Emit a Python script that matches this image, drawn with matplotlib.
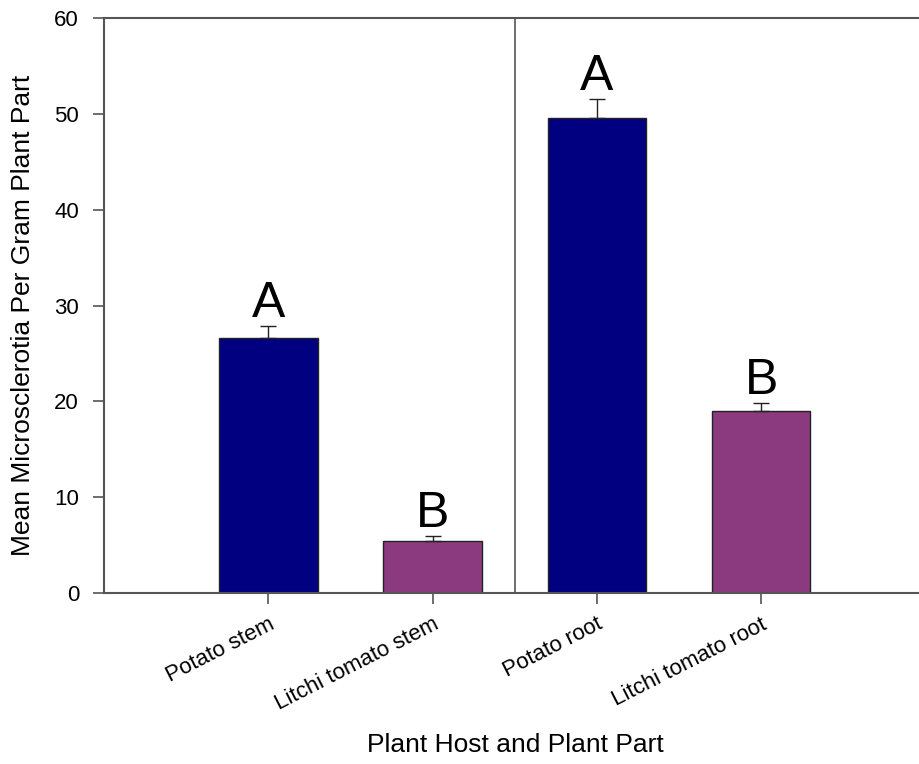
import matplotlib
matplotlib.use("Agg")
import matplotlib.pyplot as plt

# Data
categories = ["Potato stem", "Litchi tomato stem", "Potato root", "Litchi tomato root"]
means = [26.6, 5.4, 49.6, 19.0]
errors = [1.3, 0.6, 1.95, 0.86]
letters = ["A", "B", "A", "B"]
colors = ["#000080", "#8B3A7F", "#000080", "#8B3A7F"]

plt.rcParams['font.family'] = ['Liberation Sans', 'DejaVu Sans']

fig = plt.figure(figsize=(9.19, 7.64), dpi=100)
ax = fig.add_axes([104 / 919, 171 / 764, 821.5 / 919, 575 / 764])

x = [1, 2, 3, 4]
ax.bar(x, means, width=0.6, color=colors, edgecolor="#222222", linewidth=1.0, zorder=2)
ax.errorbar(x, means, yerr=[[0] * 4, errors], fmt="none", ecolor="#222222",
            elinewidth=1.0, capsize=6, capthick=1.0, zorder=3)

for xi, m, e, lab in zip(x, means, errors, letters):
    ax.text(xi, m + e + 0.9, lab, ha="center", va="baseline", fontsize=36)

# divider between stem and root groups
ax.axvline(2.5, color="#555555", linewidth=1.2, zorder=1)

ax.set_xlim(0, 5)
ax.set_ylim(0, 60)
ax.set_yticks(range(0, 61, 10))
ax.set_xticks(x)
ax.set_xticklabels(categories, rotation=27, ha="right", rotation_mode="anchor", fontsize=16)
ax.tick_params(axis="y", labelsize=16, length=8, width=1.2, color="#555555",
               direction="out", pad=10)
ax.tick_params(axis="x", length=8, width=1.2, color="#555555", direction="out", pad=7)

for side in ["left", "top", "bottom", "right"]:
    ax.spines[side].set_color("#555555")
    ax.spines[side].set_linewidth(1.5)

fig.text(23 / 919, 1 - 315 / 764, "Mean Microsclerotia Per Gram Plant Part",
         rotation=90, ha="center", va="center", fontsize=19)
fig.text(515 / 919, 1 - 745 / 764, "Plant Host and Plant Part",
         ha="center", va="center", fontsize=19)

fig.savefig("out.png", dpi=100)
